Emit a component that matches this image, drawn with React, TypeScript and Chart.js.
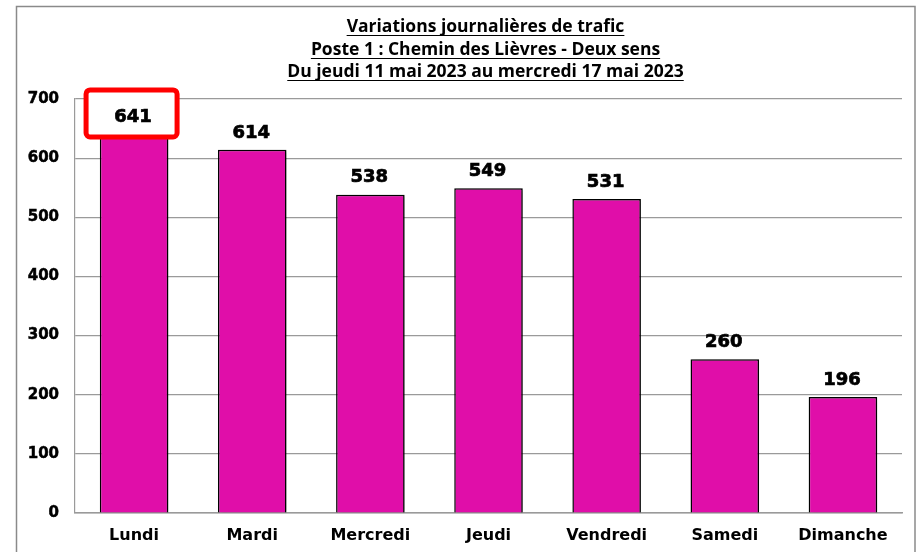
import React, { useEffect, useRef } from "react";
import { Chart, registerables } from "chart.js";

Chart.register(...registerables);

const categories = ["Lundi", "Mardi", "Mercredi", "Jeudi", "Vendredi", "Samedi", "Dimanche"];
const values = [641, 614, 538, 549, 531, 260, 196];
const titleLines = [
  "Variations journalières de trafic",
  "Poste 1 : Chemin des Lièvres - Deux sens",
  "Du jeudi 11 mai 2023 au mercredi 17 mai 2023",
];
const highlightIndex = 0;

const BAR_COLOR = "#E00EA9";
const TITLE_FONT = "'Open Sans', sans-serif";
const FONT = "'DejaVu Sans', sans-serif";

const framePlugin = {
  id: "frame",
  beforeDraw(chart: any) {
    const ctx = chart.ctx;
    ctx.save();
    ctx.fillStyle = "#ffffff";
    ctx.fillRect(0, 0, chart.width, chart.height);
    ctx.strokeStyle = "#8a8a8a";
    ctx.lineWidth = 1.5;
    ctx.strokeRect(16.5, 6.5, chart.width - 16.5 - 6, chart.height + 20);
    ctx.restore();
  },
};

const titlePlugin = {
  id: "uTitle",
  afterDraw(chart: any) {
    const ctx = chart.ctx;
    const area = chart.chartArea;
    const cx = (area.left + area.right) / 2 - 3;
    ctx.save();
    ctx.font = `bold 17.5px ${TITLE_FONT}`;
    ctx.fillStyle = "#000";
    ctx.textAlign = "center";
    ctx.textBaseline = "alphabetic";
    const ys = [32, 55, 77];
    titleLines.forEach((t, i) => {
      const y = ys[i];
      ctx.fillText(t, cx, y);
      const w = ctx.measureText(t).width;
      ctx.strokeStyle = "#000";
      ctx.lineWidth = 1.2;
      ctx.beginPath();
      ctx.moveTo(cx - w / 2, y + 3.5);
      ctx.lineTo(cx + w / 2, y + 3.5);
      ctx.stroke();
    });
    ctx.restore();
  },
};

const shadowPlugin = {
  id: "barShadow",
  beforeDatasetsDraw(chart: any) {
    const ctx = chart.ctx;
    ctx.save();
    ctx.shadowColor = "rgba(0,0,0,0.35)";
    ctx.shadowOffsetX = 3;
    ctx.shadowOffsetY = 1;
    ctx.shadowBlur = 4;
  },
  afterDatasetsDraw(chart: any) {
    chart.ctx.restore();
  },
};

const labelPlugin = {
  id: "valueLabels",
  afterDatasetsDraw(chart: any) {
    const ctx = chart.ctx;
    const meta = chart.getDatasetMeta(0);
    ctx.save();
    meta.data.forEach((bar: any, i: number) => {
      if (i === highlightIndex) {
        const l = bar.x - 48, r = bar.x + 43, t = bar.y - 44, b = bar.y + 3;
        ctx.fillStyle = "#fff";
        ctx.beginPath();
        (ctx as any).roundRect(l, t, r - l, b - t, 4);
        ctx.fill();
        ctx.strokeStyle = "#ff0000";
        ctx.lineWidth = 5;
        ctx.stroke();
      }
      ctx.font = `bold 18px ${FONT}`;
      ctx.fillStyle = "#000";
      ctx.strokeStyle = "#000";
      ctx.lineWidth = 0.7;
      ctx.textAlign = "center";
      ctx.textBaseline = "middle";
      ctx.fillText(String(values[i]), bar.x - 1, bar.y - 17);
      ctx.strokeText(String(values[i]), bar.x - 1, bar.y - 17);
    });
    ctx.restore();
  },
};

export default function App() {
  const ref = useRef<HTMLCanvasElement>(null);
  useEffect(() => {
    document.body.style.margin = "0";
    const chart = new Chart(ref.current!, {
      type: "bar",
      data: {
        labels: categories,
        datasets: [
          {
            data: values,
            backgroundColor: BAR_COLOR,
            borderColor: "#000",
            borderWidth: 1.5,
            categoryPercentage: 0.58,
            barPercentage: 1,
          },
        ],
      },
      options: {
        responsive: false,
        animation: false,
        layout: { padding: { top: 99, right: 19, left: 0, bottom: 0 } },
        plugins: { legend: { display: false }, title: { display: false }, tooltip: { enabled: false } },
        scales: {
          x: {
            grid: { display: false, drawTicks: false },
            border: { color: "#9a9a9a", width: 1.5 },
            ticks: {
              color: "#000",
              font: { family: FONT, size: 16, weight: "bold" },
              padding: 13,
            },
            afterFit(scale: any) {
              scale.height = 39;
            },
          },
          y: {
            min: 0,
            max: 700,
            ticks: {
              stepSize: 100,
              color: "#000",
              font: { family: FONT, size: 15, weight: "bold" },
              padding: 16,
              textStrokeColor: "#000",
              textStrokeWidth: 0.5,
            },
            grid: { color: "#9a9a9a", lineWidth: 1.2, drawTicks: false },
            border: { color: "#9a9a9a", width: 1.2 },
            afterFit(scale: any) {
              scale.width = 75;
            },
          },
        },
      },
      plugins: [framePlugin, shadowPlugin, labelPlugin, titlePlugin],
    } as any);
    return () => chart.destroy();
  }, []);
  return <canvas ref={ref} width={921} height={552} style={{ display: "block" }} />;
}
